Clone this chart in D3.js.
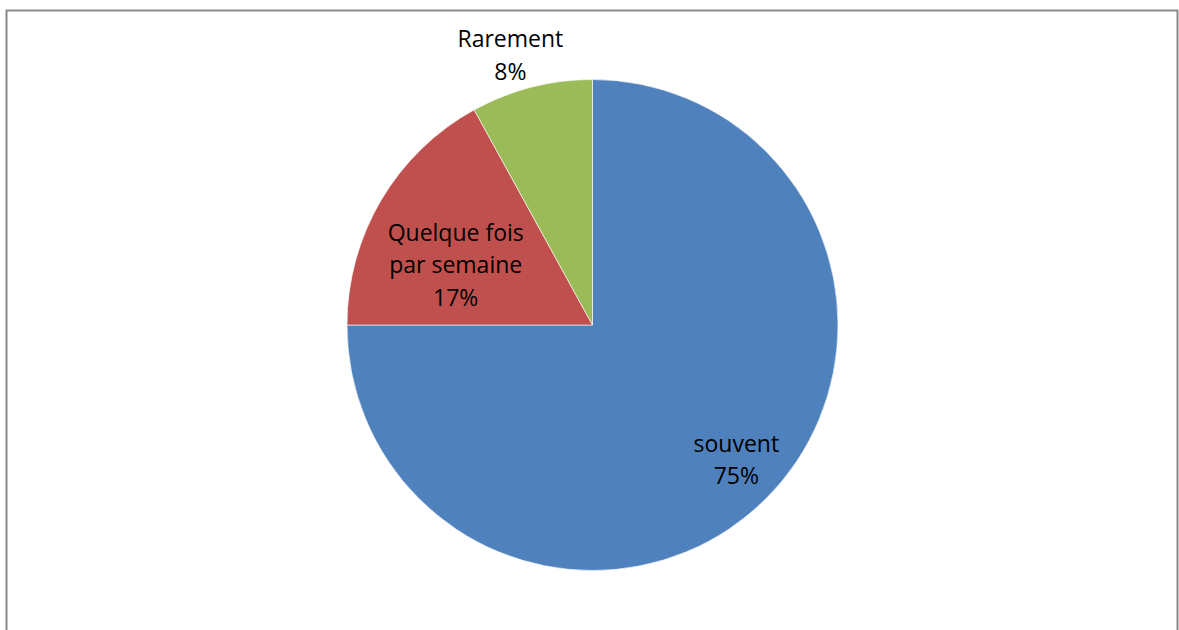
<!DOCTYPE html>
<html>
<head>
<meta charset="utf-8">
<script src="https://cdn.jsdelivr.net/npm/d3@7"></script>
<style>
  html, body { margin: 0; padding: 0; background: #fff; }
  svg { display: block; }
  text { font-family: "Open Sans", "Noto Sans", sans-serif; font-size: 23px; fill: #000; }
</style>
</head>
<body>
<svg id="chart" width="1179" height="630"></svg>
<script>
// Répartition des réponses (en %)
const categories = ["souvent", "Quelque fois par semaine", "Rarement"];
const values = [75, 17, 8];
const colors = ["#4F81BD", "#C0504D", "#9BBB59"];
// Étiquettes affichées, ligne par ligne
const labelLines = [
  ["souvent", "75%"],
  ["Quelque fois", "par semaine", "17%"],
  ["Rarement", "8%"]
];

const svg = d3.select("#chart");

// Cadre de la zone de graphique
svg.append("rect")
  .attr("x", 6.5).attr("y", 10.5)
  .attr("width", 1171).attr("height", 640)
  .attr("fill", "#fff")
  .attr("stroke", "#8a8a8a")
  .attr("stroke-width", 2);

const cx = 592.5, cy = 325, r = 245.5;

const pie = d3.pie().sort(null).value(d => d.value);
const arcs = pie(categories.map((c, i) => ({ name: c, value: values[i], i })));
const arc = d3.arc().innerRadius(0).outerRadius(r);

const g = svg.append("g").attr("transform", `translate(${cx},${cy})`);

g.selectAll("path.slice")
  .data(arcs)
  .join("path")
  .attr("class", "slice")
  .attr("d", arc)
  .attr("fill", d => colors[d.data.i])
  .attr("stroke", "#fff")
  .attr("stroke-width", 0.6);

// Placement des étiquettes : rayon relatif le long de la bissectrice, plus un léger décalage
const labelLayout = [
  { k: 0.80, dx: 5, dy: 4 },
  { k: 0.60, dx: -10, dy: 23 },
  { k: 1.10, dx: -15, dy: 0 }
];
const lineH = 32.5;

arcs.forEach(d => {
  const i = d.data.i;
  const lines = labelLines[i];
  const L = labelLayout[i];
  const a = (d.startAngle + d.endAngle) / 2;
  const x = Math.sin(a) * r * L.k + L.dx;
  const y = -Math.cos(a) * r * L.k + L.dy;
  const t = g.append("text")
    .attr("text-anchor", "middle")
    .attr("x", x)
    .attr("y", y - (lines.length - 1) * lineH / 2);
  lines.forEach((s, k) => {
    t.append("tspan")
      .attr("x", x)
      .attr("dy", k === 0 ? 0 : lineH)
      .text(s);
  });
});
</script>
</body>
</html>
